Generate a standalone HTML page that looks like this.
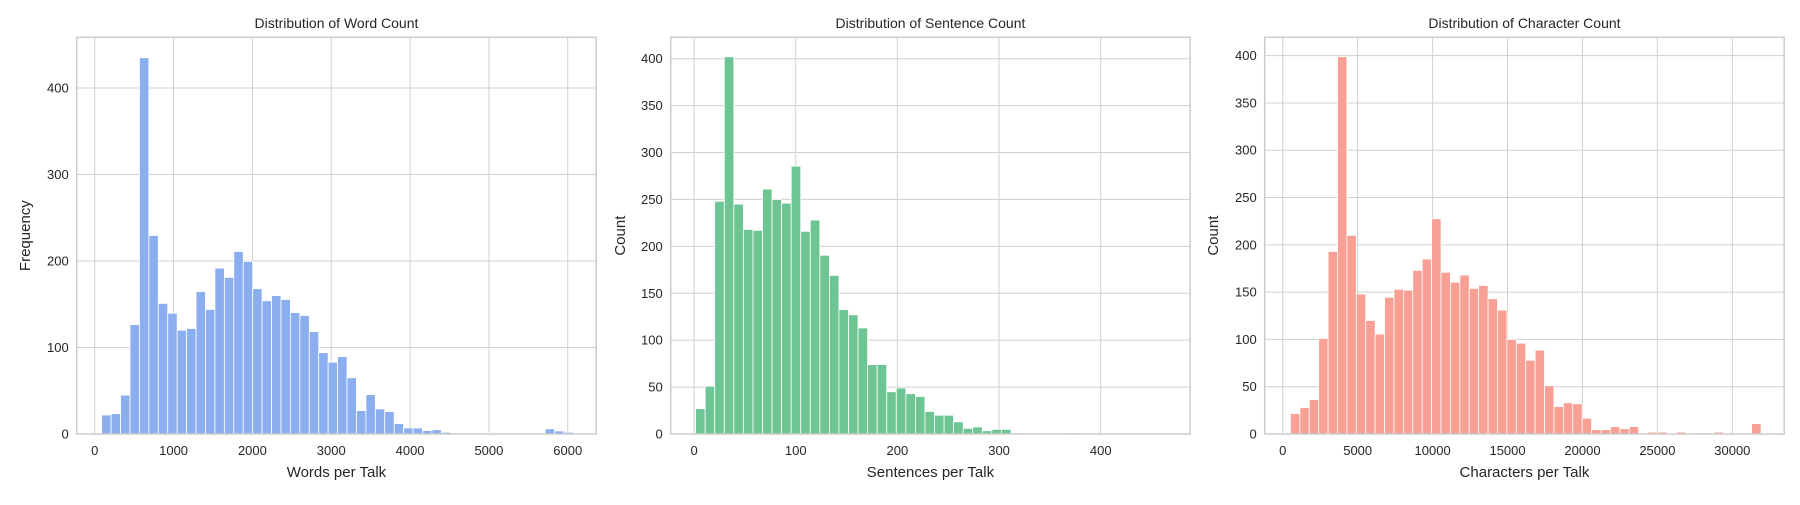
<!DOCTYPE html>
<html><head><meta charset="utf-8"><style>
body{margin:0;background:#fff;}
svg text{font-family:"Liberation Sans",Arial,sans-serif;fill:#262626;}
</style></head><body>
<svg id="fig" width="1800" height="500" xmlns="http://www.w3.org/2000/svg"></svg>
<script>
const wordStart = 88, wordWidth = 119.7;
const wordCounts = [22,23.5,45,126.5,435,229.5,151,139.6,120,122,164.7,144,191.7,181,211,199.4,168,154,160,155.5,140.4,137,118.4,94,83,89.5,65,27,45.5,29,26,12,7,7,4,5,2,1,1,0,1,1,1,0,1,0,0,6,3.5,2];
const sentStart = 1.5, sentWidth = 9.4;
const sentCounts = [27,51,248,402,245,218,217,261,250,246,285.5,216,228,190.5,169,132.5,127,113,74,74,45,49,43,40,24,20,20,13,6,7.5,3.5,5,5,1,0,0,0,0,0,1,0,0,0,0,0,0,0,0,0,0];
const charStart = 513, charWidth = 628;
const charCounts = [21.6,28,36.4,101,193,399,210,148,120,105.7,144.5,153,152,173,185,227.6,171,160.5,168,154,157,143,131,100,96,78,88.7,51,29,33,32,16.6,4.6,4.6,7.8,5.7,7.8,0,2,2,0,2,0,1,1,2,0,0,0,11];
const wordXTicks = [0,1000,2000,3000,4000,5000,6000];
const sentXTicks = [0,100,200,300,400];
const charXTicks = [0,5000,10000,15000,20000,25000,30000];
const wordYTicks = [0,100,200,300,400];
const otherYTicks = [0,50,100,150,200,250,300,350,400];

const NS="http://www.w3.org/2000/svg";
const svg=document.getElementById('fig');
function mk(tag,attrs,parent){const e=document.createElementNS(NS,tag);for(const k in attrs)e.setAttribute(k,attrs[k]);(parent||svg).appendChild(e);return e;}

const plotTop=37.3,plotBottom=434,W=519.5;
const panels=[
 {key:'word',left:76.7,xmin:-229,xmax:6361,ymax:458.6,start:wordStart,width:wordWidth,counts:wordCounts,xt:wordXTicks,yt:wordYTicks,color:'#8aaeee',title:'Distribution of Word Count',xl:'Words per Talk',yl:'Frequency',ylx:25},
 {key:'sentence',left:670.7,xmin:-23,xmax:488,ymax:422.8,start:sentStart,width:sentWidth,counts:sentCounts,xt:sentXTicks,yt:otherYTicks,color:'#6cc593',title:'Distribution of Sentence Count',xl:'Sentences per Talk',yl:'Count',ylx:620},
 {key:'character',left:1264.7,xmin:-1205,xmax:33460,ymax:419.4,start:charStart,width:charWidth,counts:charCounts,xt:charXTicks,yt:otherYTicks,color:'#f8a094',title:'Distribution of Character Count',xl:'Characters per Talk',yl:'Count',ylx:1213}
];
panels.forEach(p=>{
  const g=mk('g',{});
  
  
  const xs=v=>p.left+(v-p.xmin)/(p.xmax-p.xmin)*W;
  const ys=v=>plotBottom-v/p.ymax*(plotBottom-plotTop);
  p.xt.forEach(t=>{
    const l=mk('line',{x1:xs(t),x2:xs(t),y1:plotTop,y2:plotBottom,stroke:'#d0d0d0','stroke-width':1},g);
    
    
    const tx=mk('text',{x:xs(t),y:455,'text-anchor':'middle','font-size':13},g);
    tx.textContent=t;
    
    
  });
  p.yt.forEach(t=>{
    const l=mk('line',{x1:p.left,x2:p.left+W,y1:ys(t),y2:ys(t),stroke:'#d0d0d0','stroke-width':1},g);
    
    
    const tx=mk('text',{x:p.left-8,y:ys(t)+4.5,'text-anchor':'end','font-size':13},g);
    tx.textContent=t;
    
    
  });
  p.counts.forEach((c,i)=>{
    if(c<=0)return;
    const x0=xs(p.start+i*p.width),x1=xs(p.start+(i+1)*p.width);
    const r=mk('rect',{x:x0,y:ys(c),width:x1-x0,height:plotBottom-ys(c),fill:p.color,stroke:'#ffffff','stroke-width':0.8},g);
    
    
  });
  const fr=mk('rect',{x:p.left,y:plotTop,width:W,height:plotBottom-plotTop,fill:'none',stroke:'#cccccc','stroke-width':1.5},g);
  
  
  const ti=mk('text',{x:p.left+W/2,y:28,'text-anchor':'middle','font-size':14},g);
  ti.textContent=p.title;
  
  
  const xl=mk('text',{x:p.left+W/2,y:477,'text-anchor':'middle','font-size':15},g);
  xl.textContent=p.xl;
  
  
  const yl=mk('text',{x:p.ylx,y:(plotTop+plotBottom)/2,'text-anchor':'middle','font-size':15,transform:`rotate(-90 ${p.ylx} ${(plotTop+plotBottom)/2})`,dy:5},g);
  yl.textContent=p.yl;
  
  
});
</script>
</body></html>
